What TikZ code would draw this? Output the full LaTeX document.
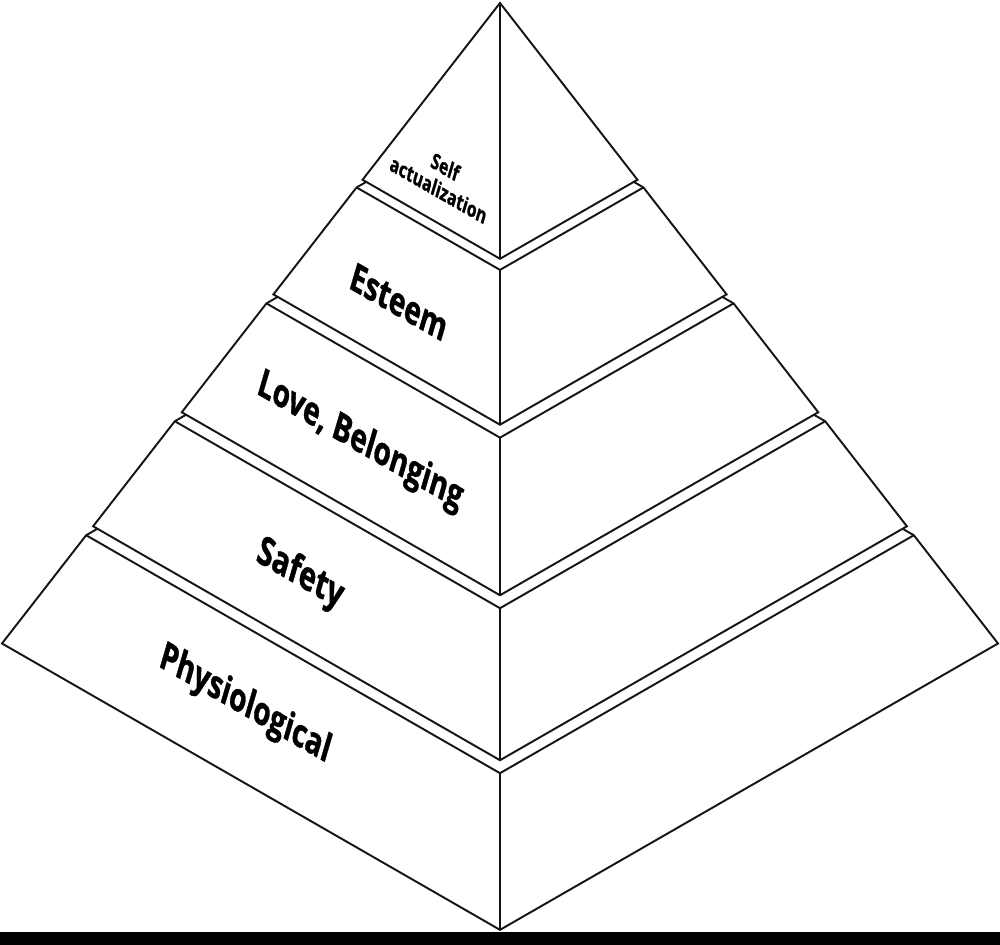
\documentclass[tikz,border=0pt]{standalone}
\usepackage{fontspec}
\setsansfont[BoldFeatures={FakeBold=1.2}]{Open Sans}
\usetikzlibrary{calc}
\definecolor{pyrline}{RGB}{20,20,20}

\tikzset{
  layerface/.style={draw=pyrline, fill=white, line width=1.1pt, line join=miter},
  levellabel/.style={font=\sffamily\bfseries\fontsize{16}{18}\selectfont, yscale=1.4, rotate=-22.3, align=center, inner sep=0pt}
}

\begin{document}
\begin{tikzpicture}[x=0.02cm, y=0.02cm]
  \useasboundingbox (0,0) rectangle (1000,945);
  % dark strip along the bottom edge
  \fill[black] (0,0) rectangle (1000,13);
  % the four lower slices, bottom to top
  \foreach \tb/\tt in {0/0.169, 0.183/0.347, 0.361/0.531, 0.545/0.712} {
    \pgfmathsetmacro{\sb}{498*(1-\tb)}
    \pgfmathsetmacro{\st}{498*(1-\tt)}
    \pgfmathsetmacro{\yb}{301.5+640.5*\tb}
    \pgfmathsetmacro{\yt}{301.5+640.5*\tt}
    \draw[layerface] (500-\st,\yt) -- (500,\yt+0.575*\st) -- (500+\st,\yt)
      -- (500+\sb,\yb) -- (500,\yb-0.575*\sb) -- (500-\sb,\yb) -- cycle;
    \draw[layerface, fill=none] (500-\st,\yt) -- (500,\yt-0.575*\st) -- (500+\st,\yt);
    \draw[layerface] (500,\yt-0.575*\st) -- (500,\yb-0.575*\sb);
  }
  % top slice
  \pgfmathsetmacro{\sb}{498*(1-0.724)}
  \pgfmathsetmacro{\yb}{301.5+640.5*0.724}
  \draw[layerface] (500,942) -- (500+\sb,\yb) -- (500,\yb-0.575*\sb) -- (500-\sb,\yb) -- cycle;
  \draw[layerface] (500,942) -- (500,\yb-0.575*\sb);
  % labels
  \node[levellabel, font=\sffamily\bfseries\fontsize{9}{10}\selectfont] (selfact) at (442,767) {Self\\actualization};
  \node[levellabel] (esteem) at (399,643) {Esteem};
  \node[levellabel] (love) at (360,503) {Love, Belonging};
  \node[levellabel, font=\sffamily\bfseries\fontsize{16.5}{18}\selectfont] (safety) at (300,370) {Safety};
  \node[levellabel] (physio) at (245,240) {Physiological};
\end{tikzpicture}
\end{document}
